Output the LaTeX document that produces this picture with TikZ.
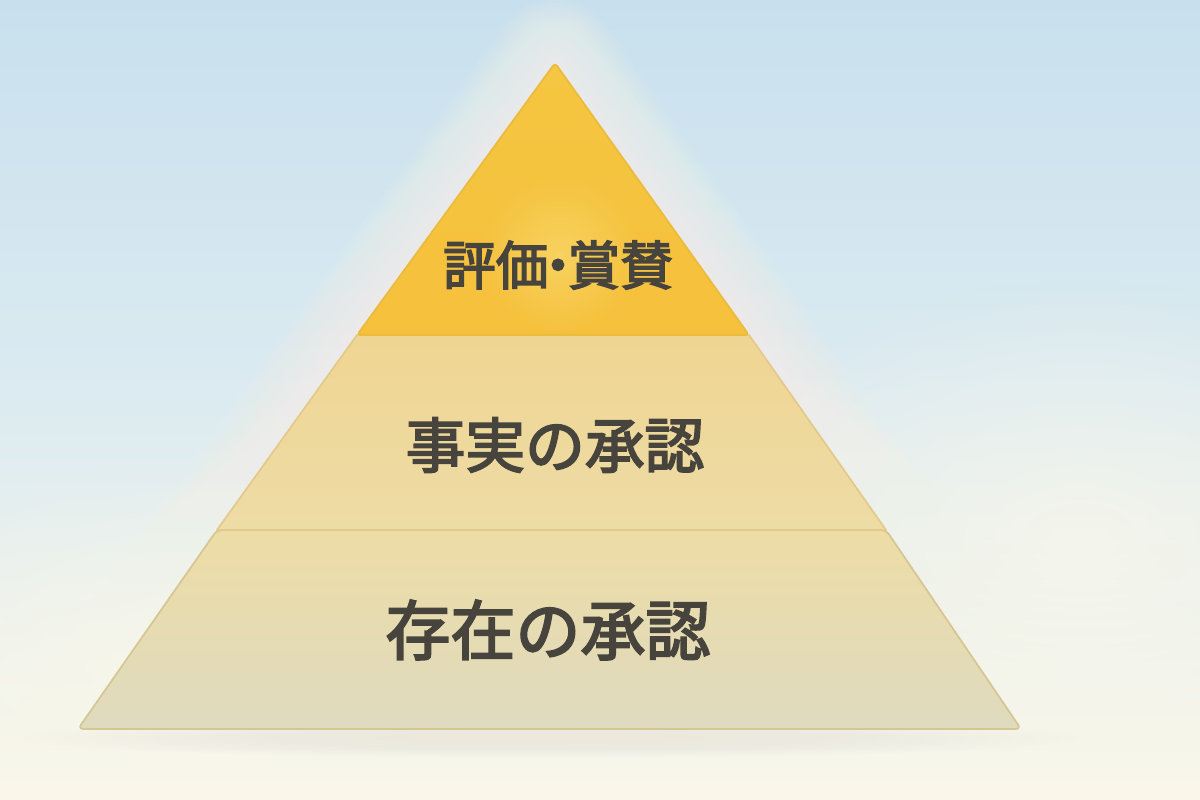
\documentclass[tikz,border=0pt]{standalone}
\usepackage{fontspec}
\newfontfamily\jpfont[FakeBold=3]{Noto Sans CJK JP}
\usetikzlibrary{fadings}
\tikzfading[name=glow out, inner color=transparent!0, outer color=transparent!100]
\definecolor{skyblue}{HTML}{C8E0EE}
\definecolor{paleblue}{HTML}{DCEBF1}
\definecolor{paper}{HTML}{FAF7EA}
\definecolor{topgold}{HTML}{F5C641}
\definecolor{topglow}{HTML}{F9D96E}
\definecolor{midsand}{HTML}{EFD592}
\definecolor{midsandlow}{HTML}{EEDCA6}
\definecolor{basesand}{HTML}{EDDCA5}
\definecolor{basegray}{HTML}{DFDBBF}
\definecolor{inkgray}{HTML}{47433D}
\tikzset{
    tier/.style={
        draw=#1,
        line width=0.5pt,
        line join=round
    },
    tierlabel/.style={
        text=inkgray,
        inner sep=0pt
    }
}

\begin{document}
\begin{tikzpicture}
    \useasboundingbox (0,0) rectangle (12,8);
    % Background
    \shade[top color=skyblue, bottom color=paper, middle color=paleblue] (0,0) rectangle (12,8);
    \fill[paper, path fading=glow out, opacity=0.7] (10.8,2.6) ellipse (4 and 2.6);
    \fill[paper, path fading=glow out, opacity=0.7] (2,1.4) ellipse (4 and 2);
    \fill[black!30, path fading=glow out, opacity=0.35] (5.5,0.62) ellipse (5.3 and 0.2);

    % Corners of the tiers
    \coordinate (apex) at (5.55,7.37);
    \coordinate (topL) at (3.57,4.65);
    \coordinate (topR) at (7.49,4.65);
    \coordinate (midL) at (2.17,2.70);
    \coordinate (midR) at (8.86,2.70);
    \coordinate (baseL) at (0.78,0.71);
    \coordinate (baseR) at (10.21,0.71);

    % Halo round the pyramid
    \foreach \w in {2,4,...,36}
        \draw[paper, line width=\w pt, line join=round, opacity=0.07]
            (apex) -- (baseR) -- (baseL) -- cycle;

    % Tiers
    \shade[tier=basesand!90!black, top color=basesand, bottom color=basegray, rounded corners=1.5pt]
        (midL) -- (midR) -- (baseR) -- (baseL) -- cycle;
    \shade[tier=midsand!95!black, top color=midsand, bottom color=midsandlow]
        (topL) -- (topR) -- (midR) -- (midL) -- cycle;
    \shade[tier=topgold!95!black, top color=topgold, bottom color=topgold!92!orange, rounded corners=1pt]
        (apex) -- (topR) -- (topL) -- cycle;
    \fill[topglow, path fading=glow out, opacity=0.7] (5.6,5.45) circle (0.8);

    % Labels
    \node[tierlabel, font=\jpfont\fontsize{15}{15}\selectfont] (praise) at (5.58,5.35) {評価\kern-0.32em・\kern-0.32em賞賛};
    \node[tierlabel, font=\jpfont\fontsize{17}{17}\selectfont] (fact) at (5.55,3.55) {事実の承認};
    \node[tierlabel, font=\jpfont\fontsize{18.5}{18.5}\selectfont] (being) at (5.48,1.70) {存在の承認};
\end{tikzpicture}
\end{document}
